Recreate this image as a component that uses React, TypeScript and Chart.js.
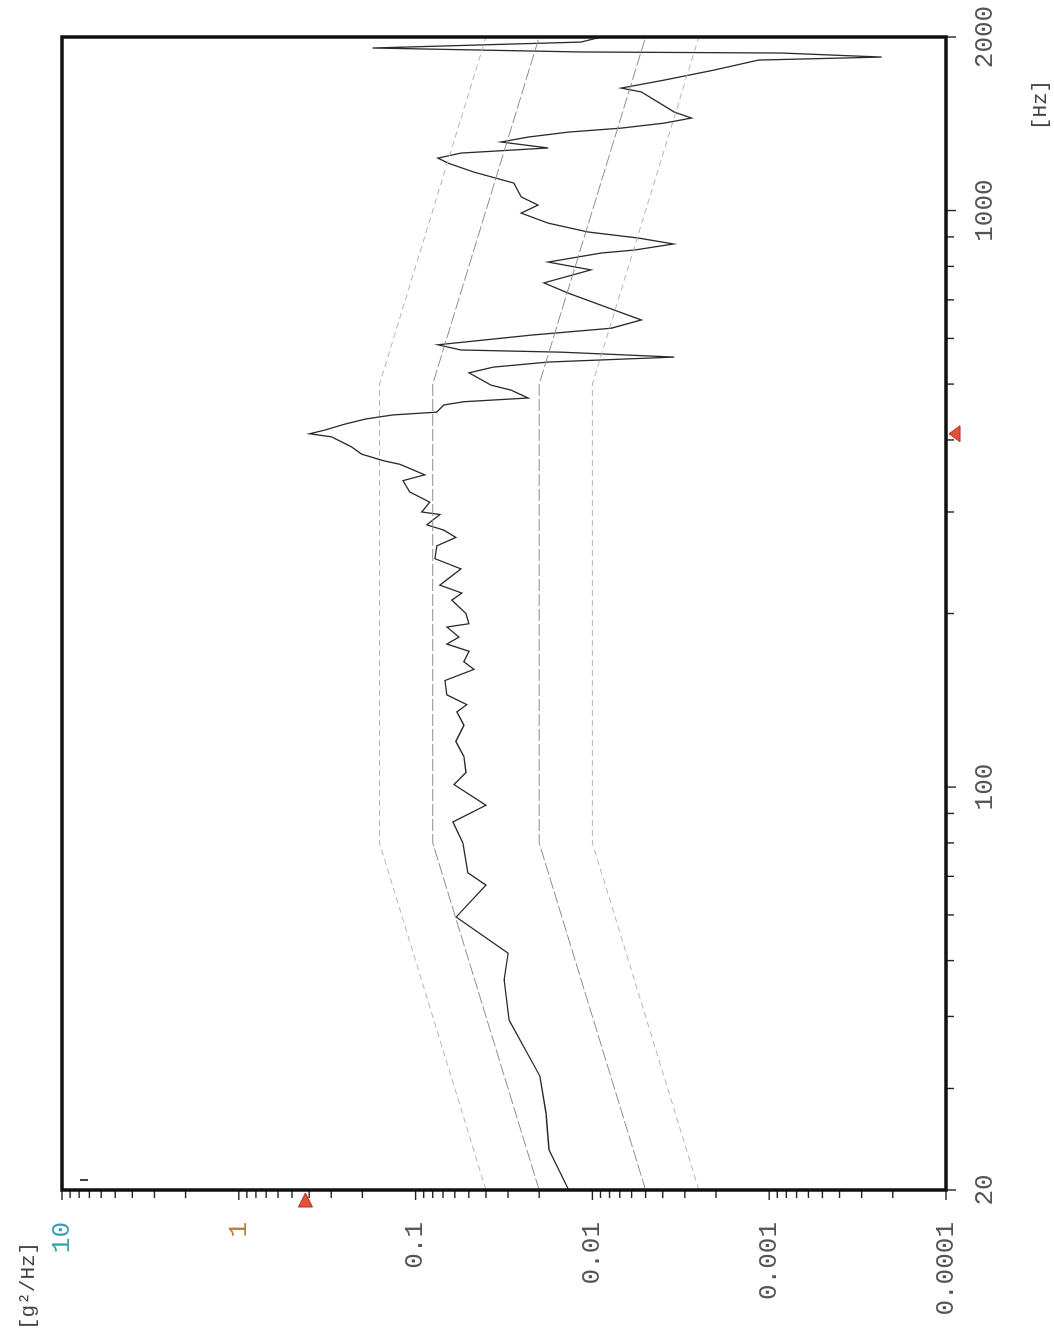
import React, { useEffect, useRef } from 'react';
import { Chart, registerables } from 'chart.js';

Chart.register(...registerables);

// ---- data (frequency in Hz, PSD in g^2/Hz) ----
const freqHz = [
  20, 23.5, 27.2, 31.5, 39.4, 46.3, 51.5, 59.5, 67.6, 71, 80, 87, 93, 101, 106, 113, 120, 128, 135, 139,
  144.5, 153, 160, 165, 172, 177, 182, 189.5, 192, 200, 211, 217, 224, 239, 249, 262, 271, 279, 285, 297,
  300, 312, 325, 340, 348, 363, 368, 378, 389, 405, 410, 416, 426, 435, 442, 447, 460, 466, 473, 488,
  498, 523, 535, 546, 557, 568, 573, 585, 608, 625, 646, 672, 719, 749, 789, 814, 844, 854, 875, 896,
  918, 951, 990, 1022, 1056, 1116, 1166, 1209, 1233, 1258, 1284, 1315, 1341, 1368, 1390, 1418, 1447, 1482, 1606, 1631,
  1684, 1753, 1824, 1846, 1876, 1884, 1914, 1960, 2000,
];
const psdMeasured = [
  0.0136, 0.0176, 0.0183, 0.0198, 0.0296, 0.0316, 0.03, 0.059, 0.04, 0.0506, 0.054, 0.0615, 0.04, 0.0607, 0.0519, 0.0533, 0.0592, 0.0533, 0.0584, 0.0513,
  0.0665, 0.0683, 0.0468, 0.0533, 0.0499, 0.0665, 0.0569, 0.0665, 0.0499, 0.0519, 0.0624, 0.0547, 0.0729, 0.0554, 0.0778, 0.0759, 0.0592, 0.0692, 0.0864, 0.0729,
  0.0923, 0.0831, 0.108, 0.118, 0.0887, 0.123, 0.151, 0.202, 0.23, 0.299, 0.398, 0.327, 0.252, 0.191, 0.135, 0.0759, 0.0692, 0.0533, 0.0231, 0.0288,
  0.0375, 0.0499, 0.0365, 0.0178, 0.00344, 0.015, 0.0554, 0.0748, 0.0222, 0.00782, 0.00529, 0.00752, 0.0137, 0.0188, 0.0102, 0.0178, 0.0089, 0.0058, 0.00348, 0.0055,
  0.0106, 0.0178, 0.0253, 0.0203, 0.0253, 0.0278, 0.0468, 0.0657, 0.0748, 0.0554, 0.0178, 0.0329, 0.0231, 0.0137, 0.00687, 0.00392, 0.00275, 0.00344, 0.00529, 0.00687,
  0.00392, 0.00204, 0.00115, 0.000231, 0.000851, 0.0116, 0.175, 0.0116, 0.0089,
];

// tolerance profile break points
const profileFreq = [20, 80, 500, 2000];
const plus6dB = [0.04, 0.16, 0.16, 0.04];
const plus3dB = [0.02, 0.08, 0.08, 0.02];
const minus3dB = [0.005, 0.02, 0.02, 0.005];
const minus6dB = [0.0025, 0.01, 0.01, 0.0025];

// axes
const freqTicks = [20, 100, 1000, 2000];
const freqTickLabels = ['20', '100', '1000', '2000'];
const freqMinorTicks = [30, 40, 50, 60, 70, 80, 90, 200, 300, 400, 500, 600, 700, 800, 900];
const psdTicks = [10, 1, 0.1, 0.01, 0.001, 0.0001];
const psdTickLabels = ['10', '1', '0.1', '0.01', '0.001', '0.0001'];
const psdMinorFactors = [2, 3, 4, 5, 6, 7, 8, 9];

// cursor markers
const markerFreq = 410;
const markerPsd = 0.42;

const FONT = '"Liberation Mono", "DejaVu Sans Mono", monospace';

function toPoints(xs: number[], ys: number[]) {
  return xs.map((x, i) => ({ x, y: ys[i] }));
}

const decorPlugin = {
  id: 'decor',
  afterDraw(chart: any) {
    const ctx = chart.ctx as CanvasRenderingContext2D;
    const { left, right, top, bottom } = chart.chartArea;
    const xs = chart.scales.x;
    const ys = chart.scales.y;
    ctx.save();
    ctx.strokeStyle = '#222';
    ctx.lineWidth = 1.4;
    // frequency axis ticks (outward)
    const drawX = (f: number, len: number) => {
      const px = xs.getPixelForValue(f);
      ctx.beginPath();
      ctx.moveTo(px, bottom);
      ctx.lineTo(px, bottom + len);
      ctx.stroke();
    };
    freqMinorTicks.forEach((f) => drawX(f, 8));
    freqTicks.forEach((f) => drawX(f, 10));
    // psd axis ticks (outward)
    const drawY = (v: number, len: number) => {
      const py = ys.getPixelForValue(v);
      ctx.beginPath();
      ctx.moveTo(left, py);
      ctx.lineTo(left - len, py);
      ctx.stroke();
    };
    psdTicks.forEach((v) => drawY(v, 10));
    for (let k = -4; k <= 0; k++) {
      psdMinorFactors.forEach((m) => drawY(m * Math.pow(10, k), 8));
    }
    // frame
    ctx.lineWidth = 3.5;
    ctx.strokeStyle = '#111';
    ctx.strokeRect(left, top, right - left, bottom - top);

    // small marker near corner
    ctx.lineWidth = 2;
    ctx.strokeStyle = '#444';
    ctx.beginPath();
    ctx.moveTo(left + 10, top + 18);
    ctx.lineTo(left + 10, top + 26);
    ctx.stroke();

    // cursor triangles
    ctx.fillStyle = '#e0533a';
    ctx.strokeStyle = '#b03020';
    ctx.lineWidth = 1;
    const py = ys.getPixelForValue(markerPsd);
    ctx.beginPath();
    ctx.moveTo(left - 3, py);
    ctx.lineTo(left - 17, py - 7);
    ctx.lineTo(left - 17, py + 7);
    ctx.closePath();
    ctx.fill();
    ctx.stroke();
    const px = xs.getPixelForValue(markerFreq);
    ctx.beginPath();
    ctx.moveTo(px, bottom + 3);
    ctx.lineTo(px - 8, bottom + 14);
    ctx.lineTo(px + 8, bottom + 14);
    ctx.closePath();
    ctx.fill();
    ctx.stroke();

    // unit labels
    ctx.fillStyle = '#444';
    ctx.font = '21px ' + FONT;
    ctx.textBaseline = 'middle';
    ctx.textAlign = 'left';
    ctx.fillText('[g\u00B2/Hz]', 5, top - 34);
    ctx.textAlign = 'center';
    ctx.fillText('[Hz]', right - 68, bottom + 94);
    ctx.restore();
  },
};

export default function App() {
  const ref = useRef<HTMLCanvasElement | null>(null);

  useEffect(() => {
    if (!ref.current) return;
    const chart = new Chart(ref.current, {
      type: 'scatter',
      data: {
        datasets: [
          { data: toPoints(profileFreq, plus6dB), showLine: true, borderColor: '#b4b4b4', borderWidth: 1, borderDash: [6, 4], pointRadius: 0 },
          { data: toPoints(profileFreq, minus6dB), showLine: true, borderColor: '#b4b4b4', borderWidth: 1, borderDash: [6, 4], pointRadius: 0 },
          { data: toPoints(profileFreq, plus3dB), showLine: true, borderColor: '#8c8c8c', borderWidth: 1, borderDash: [12, 3], pointRadius: 0 },
          { data: toPoints(profileFreq, minus3dB), showLine: true, borderColor: '#8c8c8c', borderWidth: 1, borderDash: [12, 3], pointRadius: 0 },
          { data: toPoints(freqHz, psdMeasured), showLine: true, borderColor: '#2a2a2a', borderWidth: 1.3, pointRadius: 0 },
        ],
      } as any,
      options: {
        animation: false,
        responsive: false,
        maintainAspectRatio: false,
        events: [],
        layout: { padding: { top: 62, right: 37, bottom: 0, left: 0 } },
        plugins: { legend: { display: false }, tooltip: { enabled: false }, title: { display: false } },
        scales: {
          x: {
            type: 'logarithmic',
            position: 'bottom',
            min: 20,
            max: 2000,
            grid: { display: false, drawTicks: false },
            border: { display: false },
            ticks: {
              autoSkip: false,
              maxRotation: 0,
              minRotation: 0,
              padding: 24,
              color: '#555',
              font: { family: FONT, size: 26 },
              callback: (v: any) => {
                const i = freqTicks.indexOf(Number(v));
                return i >= 0 ? freqTickLabels[i] : '';
              },
            },
            afterBuildTicks: (s: any) => {
              s.ticks = freqTicks.map((v) => ({ value: v }));
            },
            afterFit: (s: any) => {
              s.height = 108;
              s.paddingLeft = 0;
              s.paddingRight = 0;
            },
          },
          y: {
            type: 'logarithmic',
            position: 'left',
            min: 0.0001,
            max: 10,
            grid: { display: false, drawTicks: false },
            border: { display: false },
            ticks: {
              autoSkip: false,
              padding: 32,
              color: (c: any) => (c.tick && c.tick.value === 10 ? '#3a9fb2' : c.tick && c.tick.value === 1 ? '#b8803c' : '#555'),
              font: { family: FONT, size: 26 },
              callback: (v: any) => {
                const i = psdTicks.findIndex((t) => Math.abs(t - Number(v)) < t * 1e-6);
                return i >= 0 ? psdTickLabels[i] : '';
              },
            },
            afterBuildTicks: (s: any) => {
              s.ticks = psdTicks.map((v) => ({ value: v }));
            },
            afterFit: (s: any) => {
              s.width = 145;
              s.paddingTop = 0;
              s.paddingBottom = 0;
            },
          },
        },
      } as any,
      plugins: [decorPlugin],
    });
    return () => chart.destroy();
  }, []);

  return (
    <div style={{ position: 'fixed', left: 0, top: 0, width: 1054, height: 1335, overflow: 'hidden', background: '#fff' }}>
      <div
        style={{
          position: 'absolute',
          left: 0,
          top: 0,
          width: 1335,
          height: 1054,
          transformOrigin: '0 0',
          transform: 'translateY(1335px) rotate(-90deg)',
        }}
      >
        <canvas ref={ref} width={1335} height={1054} style={{ display: 'block' }} />
      </div>
    </div>
  );
}
